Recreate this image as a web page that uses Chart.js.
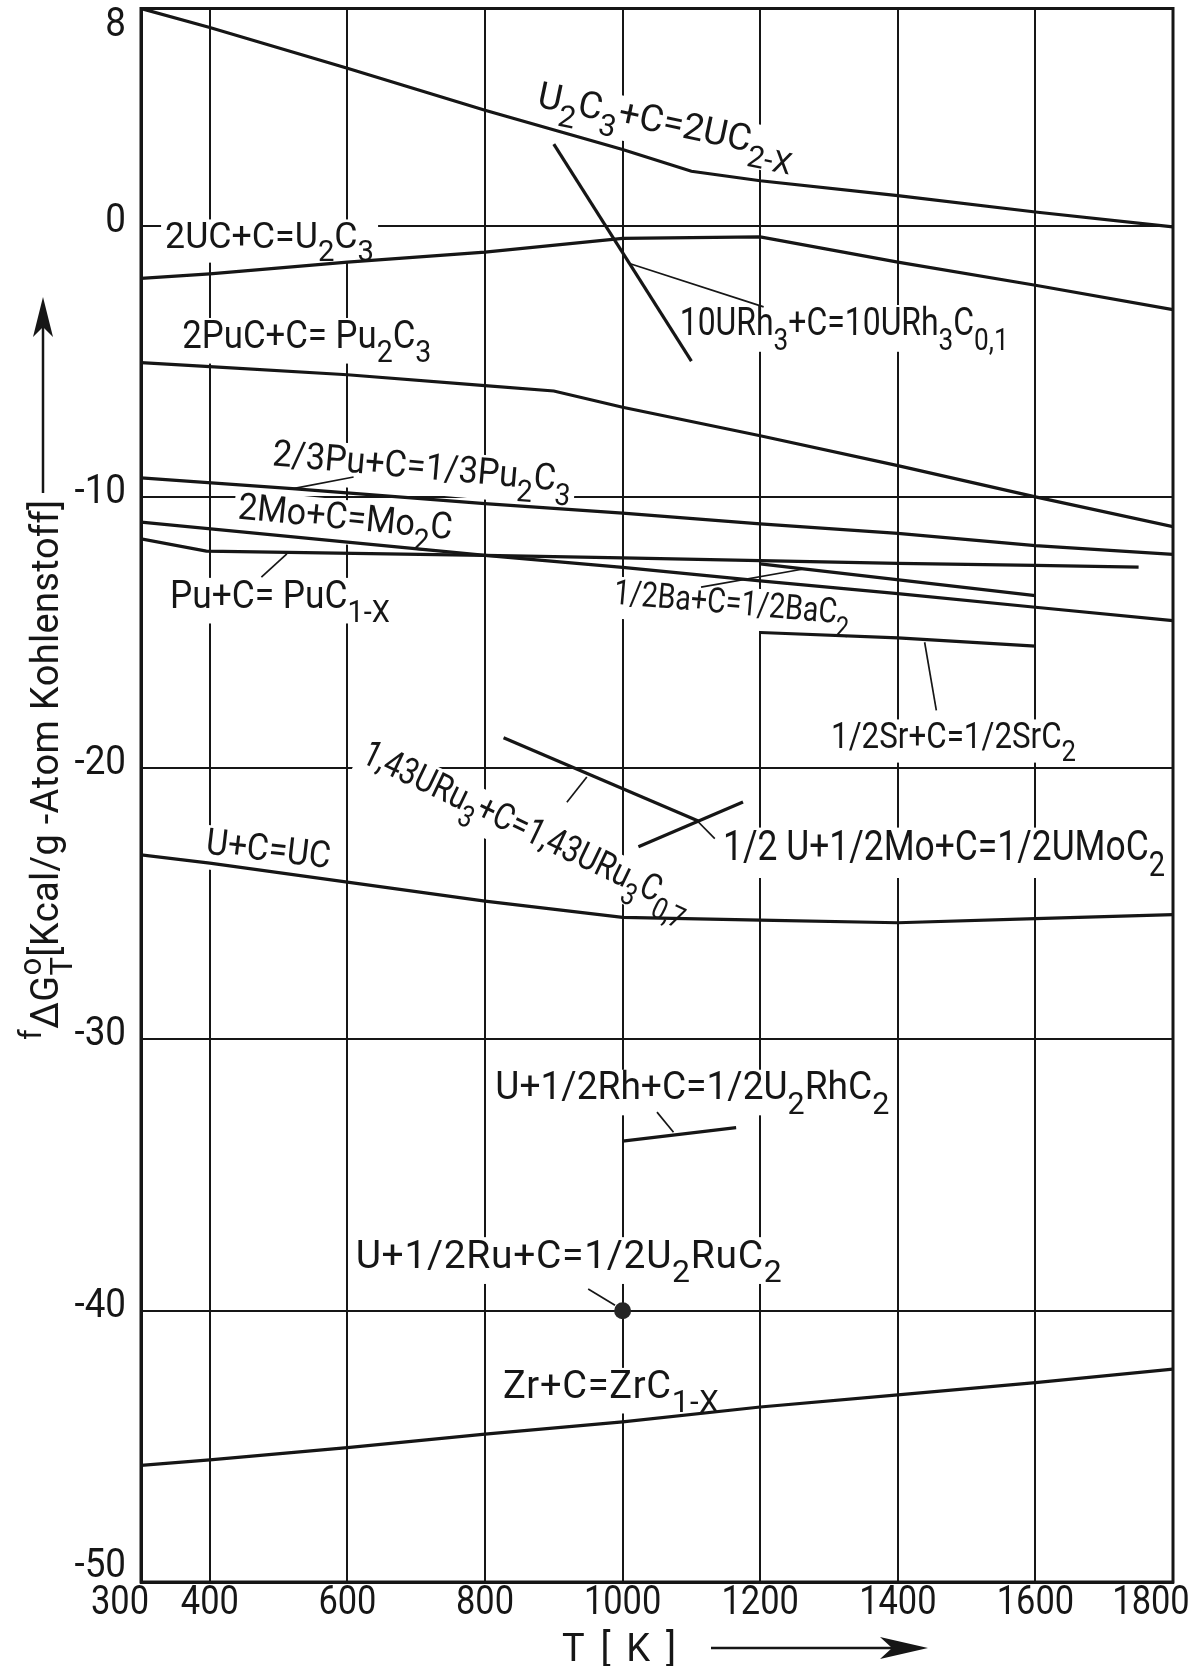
<!DOCTYPE html>
<html>
<head>
<meta charset="utf-8">
<script src="https://cdn.jsdelivr.net/npm/chart.js@4.4.0/dist/chart.umd.min.js"></script>
<style>
  html, body { margin: 0; padding: 0; background: #fff; }
  #wrap { width: 1194px; height: 1666px; }
</style>
</head>
<body>
<div id="wrap"><canvas id="c" width="1194" height="1666"></canvas></div>
<script>
// ---- axis ticks ----
const X_TICKS = [300, 400, 600, 800, 1000, 1200, 1400, 1600, 1800];
const Y_TICKS = [-50, -40, -30, -20, -10, 0, 8];

// ---- reactions: temperature T [K] and free energy of formation [kcal/g-atom C] ----
const T_U2C3_UC2 = [300, 400, 600, 800, 1000, 1100, 1200, 1400, 1600, 1800];
const G_U2C3_UC2 = [8.0, 7.3, 5.8, 4.25, 2.8, 2.0, 1.65, 1.1, 0.5, -0.05];

const T_UC_U2C3 = [300, 400, 600, 800, 1000, 1200, 1400, 1600, 1800];
const G_UC_U2C3 = [-1.95, -1.78, -1.35, -0.98, -0.47, -0.42, -1.35, -2.2, -3.1];

const T_URH3 = [900, 1100];
const G_URH3 = [3.0, -5.0];

const T_PUC_PU2C3 = [300, 400, 600, 800, 900, 1000, 1200, 1400, 1600, 1800];
const G_PUC_PU2C3 = [-5.05, -5.2, -5.5, -5.9, -6.1, -6.7, -7.75, -8.85, -10.0, -11.1];

const T_PU_PU2C3 = [300, 520, 800, 1000, 1200, 1400, 1600, 1800];
const G_PU_PU2C3 = [-9.3, -9.7, -10.25, -10.6, -11.0, -11.35, -11.8, -12.12];

const T_MO2C = [300, 600, 800, 1000, 1200, 1400, 1600, 1800];
const G_MO2C = [-10.93, -11.67, -12.16, -12.6, -13.1, -13.57, -14.07, -14.56];

const T_PUC = [300, 395, 800, 1000, 1200, 1400, 1600, 1750];
const G_PUC = [-11.55, -12.0, -12.16, -12.25, -12.35, -12.45, -12.53, -12.59];

const T_BAC2 = [1200, 1600];
const G_BAC2 = [-12.47, -13.64];

const T_SRC2 = [1200, 1400, 1600];
const G_SRC2 = [-15.0, -15.2, -15.5];

const T_URU3 = [827, 1110];
const G_URU3 = [-18.88, -21.95];

const T_UMOC2 = [1023, 1175];
const G_UMOC2 = [-22.9, -21.25];

const T_UC = [300, 400, 600, 800, 1000, 1200, 1400, 1600, 1800];
const G_UC = [-23.2, -23.5, -24.2, -24.9, -25.5, -25.6, -25.7, -25.55, -25.4];

const T_U2RHC2 = [1000, 1165];
const G_U2RHC2 = [-33.75, -33.25];

const T_U2RUC2 = [1000];
const G_U2RUC2 = [-40.0];

const T_ZRC = [300, 400, 600, 800, 1000, 1200, 1400, 1600, 1800];
const G_ZRC = [-45.7, -45.5, -45.05, -44.55, -44.1, -43.55, -43.1, -42.65, -42.15];

// ---- leader lines from labels to their curves ----
const LEAD_URH3   = [[1010, -1.4], [1205, -3.0]];
const LEAD_PU23   = [[521, -9.7], [609, -9.27]];
const LEAD_PUC    = [[475, -12.96], [512, -12.1]];
const LEAD_BAC2   = [[1114, -13.33], [1265, -12.65]];
const LEAD_SRC2   = [[1439, -15.36], [1456, -17.87]];
const LEAD_URU3   = [[948, -20.33], [919, -21.26]];
const LEAD_UMOC2  = [[1108, -21.93], [1134, -22.6]];
const LEAD_U2RHC2 = [[1050, -32.68], [1074, -33.42]];
const LEAD_U2RUC2 = [[950, -39.2], [989, -39.8]];

const INK = '#161616';
const FONT = 'Roboto, "DejaVu Sans", sans-serif';

function pts(ts, gs) { return ts.map((t, i) => ({ x: t, y: gs[i] })); }
function pairPts(p) { return p.map(([x, y]) => ({ x, y })); }

function curve(ts, gs) {
  return { data: pts(ts, gs), borderColor: INK, borderWidth: 3.2, pointRadius: 0, fill: false, tension: 0 };
}
function leader(p) {
  return { data: pairPts(p), borderColor: INK, borderWidth: 1.7, pointRadius: 0, fill: false, tension: 0 };
}

const datasets = [
  curve(T_U2C3_UC2, G_U2C3_UC2),
  curve(T_UC_U2C3, G_UC_U2C3),
  curve(T_URH3, G_URH3),
  curve(T_PUC_PU2C3, G_PUC_PU2C3),
  curve(T_PU_PU2C3, G_PU_PU2C3),
  curve(T_MO2C, G_MO2C),
  curve(T_PUC, G_PUC),
  curve(T_BAC2, G_BAC2),
  curve(T_SRC2, G_SRC2),
  curve(T_URU3, G_URU3),
  curve(T_UMOC2, G_UMOC2),
  curve(T_UC, G_UC),
  curve(T_U2RHC2, G_U2RHC2),
  curve(T_ZRC, G_ZRC),
  leader(LEAD_URH3), leader(LEAD_PU23), leader(LEAD_PUC), leader(LEAD_BAC2),
  leader(LEAD_SRC2), leader(LEAD_URU3), leader(LEAD_UMOC2), leader(LEAD_U2RHC2),
  leader(LEAD_U2RUC2),
  { data: pts(T_U2RUC2, G_U2RUC2), showLine: false, pointRadius: 8.5,
    pointBackgroundColor: '#262626', pointBorderColor: '#262626', pointBorderWidth: 0 }
];

// ---- reaction labels: anchor (left baseline) in data units, rotation, size, width ----
const LABELS = [
  { at: [874, 4.39],   rot: 12,  size: 37, width: 262, parts: [['U','n'],['2','b'],['C','n'],['3','b'],['+C=2UC','n'],['2-X','b']] },
  { at: [335, -0.81],  rot: 0,   size: 36, width: 209, parts: [['2UC+C=U','n'],['2','b'],['C','n'],['3','b']] },
  { at: [1083, -4.05], rot: 0,   size: 39, width: 329, parts: [['10URh','n'],['3','b'],['+C=10URh','n'],['3','b'],['C','n'],['0,1','b']] },
  { at: [360, -4.5],   rot: 0,   size: 38, width: 249, parts: [['2PuC+C= Pu','n'],['2','b'],['C','n'],['3','b']] },
  { at: [490, -8.84],  rot: 5,   size: 37, width: 300, parts: [['2/3Pu+C=1/3Pu','n'],['2','b'],['C','n'],['3','b']] },
  { at: [440, -10.8],  rot: 5.5, size: 37, width: 215, parts: [['2Mo+C=Mo','n'],['2','b'],['C','n']] },
  { at: [342, -14.08], rot: 0,   size: 38, width: 220, parts: [['Pu+C= PuC','n'],['1-X','b']] },
  { at: [986, -13.93], rot: 5,   size: 35, width: 237, parts: [['1/2Ba+C=1/2BaC','n'],['2','b']] },
  { at: [1303, -19.24],rot: 0,   size: 36, width: 245, parts: [['1/2Sr+C=1/2SrC','n'],['2','b']] },
  { at: [618, -19.76], rot: 25.5,size: 37, width: 360, parts: [['1,43URu','n'],['3','b'],['+C=1,43URu','n'],['3','b'],['C','n'],['0,7','b']] },
  { at: [1146, -23.4], rot: 0,   size: 42, width: 442, parts: [['1/2 U+1/2Mo+C=1/2UMoC','n'],['2','b']] },
  { at: [393, -23.15], rot: 6.6, size: 37, width: 125, parts: [['U+C=UC','n']] },
  { at: [815, -32.21], rot: 0,   size: 38, width: 394, parts: [['U+1/2Rh+C=1/2U','n'],['2','b'],['RhC','n'],['2','b']] },
  { at: [612, -38.41], rot: 0,   size: 39, width: 426, parts: [['U+1/2Ru+C=1/2U','n'],['2','b'],['RuC','n'],['2','b']] },
  { at: [826, -43.2],  rot: 0,   size: 38, width: 216, parts: [['Zr+C=ZrC','n'],['1-X','b']] }
];

const Y_TITLE = [['f','p'],['ΔG','n'],['o','q'],['T','b'],['[Kcal/g -Atom Kohlenstoff]','n']];
const X_TITLE = [['T [ K ]','n']];

function partFont(k, size) { return (k === 'n' ? size : size * 0.82) + 'px ' + FONT; }
function partDy(k, size) {
  if (k === 'b') return size * 0.38;
  if (k === 'p' || k === 'q') return -size * 0.45;
  return 0;
}

// draws text with sub/superscripts starting at the origin, spread or squeezed to a width
function drawRich(ctx, parts, size, width) {
  const chars = [];
  parts.forEach(([t, k]) => { for (const ch of t) chars.push([ch, k]); });
  let nat = 0, adv = 0;
  chars.forEach(([ch, k]) => {
    ctx.font = partFont(k, size);
    if (k !== 'q') { nat += ctx.measureText(ch).width; adv++; }
  });
  let sx = 1, gap = 0;
  if (width) {
    if (width >= nat) gap = adv > 1 ? (width - nat) / (adv - 1) : 0;
    else sx = width / nat;
  }
  ctx.save();
  ctx.scale(sx, 1);
  ctx.textBaseline = 'alphabetic';
  ctx.textAlign = 'left';
  let x = 0;
  chars.forEach(([ch, k]) => {
    ctx.font = partFont(k, size);
    const w = ctx.measureText(ch).width;
    ctx.fillText(ch, x, partDy(k, size));
    if (k !== 'q') x += w + gap;
  });
  ctx.restore();
}

function arrowHead(ctx, tipX, tipY, dirX, dirY, len, half) {
  const bx = tipX - dirX * len, by = tipY - dirY * len;
  const nx = -dirY, ny = dirX;
  ctx.beginPath();
  ctx.moveTo(tipX, tipY);
  ctx.lineTo(bx + nx * half, by + ny * half);
  ctx.lineTo(tipX - dirX * len * 0.75, tipY - dirY * len * 0.75);
  ctx.lineTo(bx - nx * half, by - ny * half);
  ctx.closePath();
  ctx.fill();
}

const decor = {
  id: 'decor',
  beforeDraw(chart) {
    const ctx = chart.ctx;
    ctx.save();
    ctx.fillStyle = '#fff';
    ctx.fillRect(0, 0, chart.width, chart.height);
    ctx.restore();
  },
  beforeDatasetsDraw(chart) {
    const ctx = chart.ctx, xs = chart.scales.x, ys = chart.scales.y;
    // white ground behind each label interrupts the grid as on the drawing
    LABELS.forEach(L => {
      const px = xs.getPixelForValue(L.at[0]), py = ys.getPixelForValue(L.at[1]);
      ctx.save();
      ctx.translate(px, py);
      ctx.rotate(L.rot * Math.PI / 180);
      ctx.fillStyle = '#fff';
      ctx.fillRect(-4, -L.size * 0.78, L.width + 8, L.size * 1.2);
      ctx.restore();
    });
    LABELS.forEach(L => {
      const px = xs.getPixelForValue(L.at[0]), py = ys.getPixelForValue(L.at[1]);
      ctx.save();
      ctx.translate(px, py);
      ctx.rotate(L.rot * Math.PI / 180);
      ctx.fillStyle = INK;
      drawRich(ctx, L.parts, L.size, L.width);
      ctx.restore();
    });
  },
  afterDatasetsDraw(chart) {
    const ctx = chart.ctx, a = chart.chartArea;
    ctx.save();
    ctx.strokeStyle = INK;
    ctx.lineWidth = 3;
    ctx.strokeRect(a.left, a.top, a.right - a.left, a.bottom - a.top);
    ctx.restore();
  },
  afterDraw(chart) {
    const ctx = chart.ctx, xs = chart.scales.x, ys = chart.scales.y, a = chart.chartArea;
    ctx.save();
    ctx.fillStyle = INK;
    ctx.font = '40px ' + FONT;
    // value axis labels
    Y_TICKS.forEach(v => {
      const py = ys.getPixelForValue(v);
      let dy = -4;
      if (v === 8) dy = 17;
      if (v === -50) dy = -15;
      ctx.save();
      ctx.translate(a.left - 15, py + dy);
      ctx.scale(0.92, 1);
      ctx.textAlign = 'right';
      ctx.textBaseline = 'middle';
      ctx.fillText(String(v), 0, 0);
      ctx.restore();
    });
    // temperature axis labels
    X_TICKS.forEach(v => {
      const px = xs.getPixelForValue(v);
      let dx = 0;
      if (v === X_TICKS[0]) dx = -21;
      if (v === X_TICKS[X_TICKS.length - 1]) dx = -22;
      ctx.save();
      ctx.translate(px + dx, a.bottom + 22);
      ctx.scale(0.86, 1);
      ctx.textAlign = 'center';
      ctx.textBaseline = 'middle';
      ctx.fillText(String(v), 0, 0);
      ctx.restore();
    });
    // temperature axis title with arrow
    ctx.save();
    ctx.translate(562, 1661);
    drawRich(ctx, X_TITLE, 38, 114);
    ctx.restore();
    ctx.strokeStyle = INK;
    ctx.lineWidth = 2.5;
    ctx.beginPath();
    ctx.moveTo(711, 1648);
    ctx.lineTo(900, 1648);
    ctx.stroke();
    arrowHead(ctx, 928, 1648, 1, 0, 48, 11);
    // value axis title with arrow
    ctx.save();
    ctx.translate(58, 1040);
    ctx.rotate(-Math.PI / 2);
    drawRich(ctx, Y_TITLE, 38, 540);
    ctx.restore();
    ctx.beginPath();
    ctx.moveTo(43, 493);
    ctx.lineTo(43, 320);
    ctx.stroke();
    arrowHead(ctx, 43, 297, 0, -1, 40, 10);
    ctx.restore();
  }
};

new Chart(document.getElementById('c'), {
  type: 'line',
  data: { datasets },
  options: {
    responsive: false,
    devicePixelRatio: 1,
    animation: false,
    events: [],
    layout: { padding: { top: 8, right: 21, bottom: 0, left: 0 } },
    plugins: { legend: { display: false }, tooltip: { enabled: false } },
    scales: {
      x: {
        type: 'linear', min: 300, max: 1800,
        afterBuildTicks: s => { s.ticks = X_TICKS.map(v => ({ value: v })); },
        afterFit: s => { s.height = 84; },
        ticks: { display: false },
        grid: { color: INK, lineWidth: 2, drawTicks: false },
        border: { display: true, color: INK, width: 3 }
      },
      y: {
        type: 'linear', min: -50, max: 8,
        afterBuildTicks: s => { s.ticks = Y_TICKS.map(v => ({ value: v })); },
        afterFit: s => { s.width = 141; },
        ticks: { display: false },
        grid: { color: INK, lineWidth: 2, drawTicks: false },
        border: { display: true, color: INK, width: 3 }
      }
    }
  },
  plugins: [decor]
});
</script>
</body>
</html>
